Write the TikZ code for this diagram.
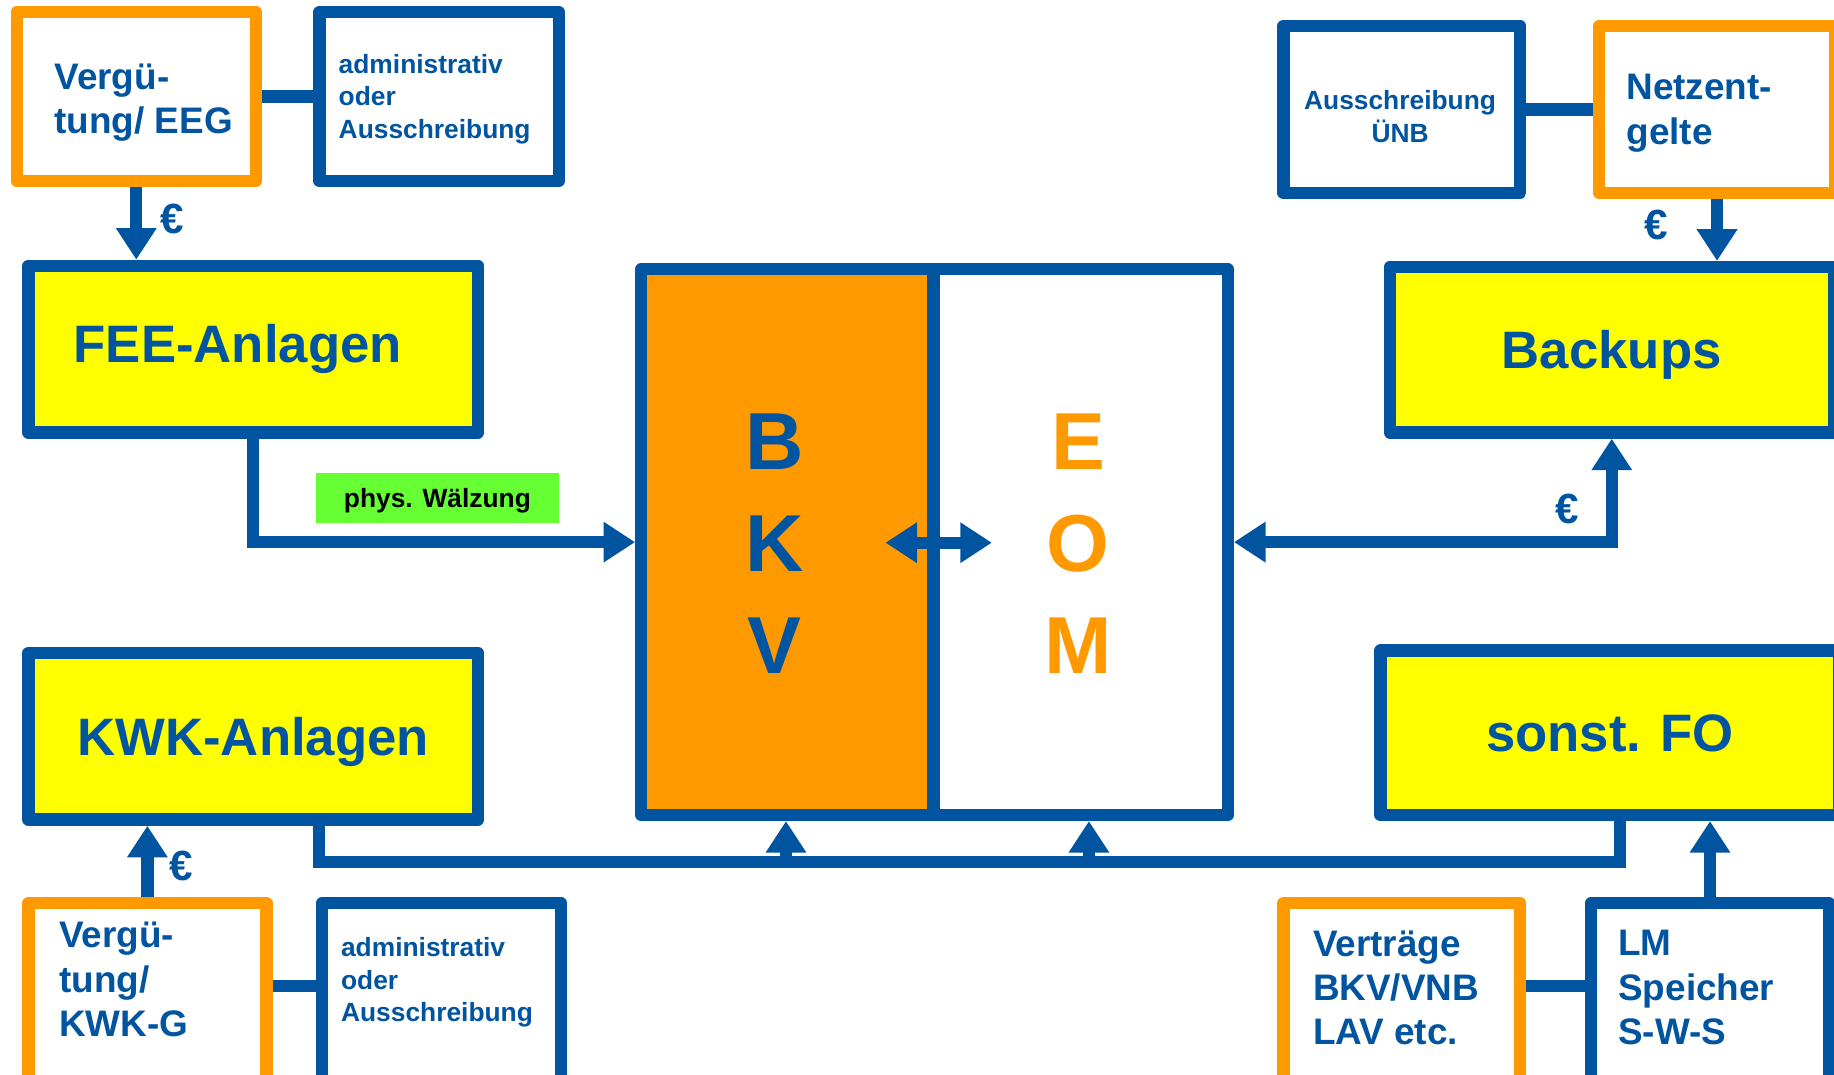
\documentclass[tikz,border=0pt]{standalone}
\usepackage{fontspec}
\setmainfont{Liberation Sans}
\usetikzlibrary{arrows.meta}

\definecolor{dblue}{HTML}{0054A0}
\definecolor{dorange}{HTML}{FF9900}
\definecolor{dyellow}{HTML}{FFFF00}
\definecolor{dgreen}{HTML}{66FF33}
\newlength\pxu
\setlength\pxu{0.11697mm}

\begin{document}
\begin{tikzpicture}[x=0.11697mm, y=-0.11697mm,
	every node/.style={font=\bfseries, text=dblue, inner sep=0pt},
	wh/.style 2 args={minimum width=#1\pxu, minimum height=#2\pxu},
	box/.style={draw=dblue, line width=10.5\pxu, line join=round, fill=white},
	obox/.style={box, draw=dorange},
	gbox/.style={box, fill=dyellow, font=\fontsize{15}{18}\selectfont\bfseries},
	smalltxt/.style={font=\fontsize{10.5}{12.6}\selectfont\bfseries, align=left, anchor=north west},
	minitxt/.style={font=\fontsize{7.5}{9.2}\selectfont\bfseries, align=left, anchor=north west},
	euro/.style={font=\fontsize{12}{14}\selectfont\bfseries},
	letters/.style={font=\fontsize{23}{29}\selectfont\bfseries, align=center},
	link/.style={draw=dblue, line width=10.5\pxu},
	>={Triangle[length=3.16mm, width=3.86mm]},
	arr/.style={link, ->}]
	\useasboundingbox (0,0) rectangle (1568,919);
	\clip (0,0) rectangle (1568,919);
	\fill[white] (0,0) rectangle (1568,919);

	% top row
	\node[obox, wh={204.5}{144.5}] (vergEEG) at (116.5,82.5) {};
	\node[box, wh={204.5}{144.5}] (adminEEG) at (375.5,82.5) {};
	\node[box, wh={202.5}{142.5}] (uenb) at (1198.5,93.5) {};
	\node[obox, wh={201.5}{142.5}] (netz) at (1468,93.5) {};
	\node[smalltxt] (vergEEGtxt) at (46,54) {Vergü-\\tung/ EEG};
	\node[minitxt] (adminEEGtxt) at (289,46) {administrativ\\oder\\Ausschreibung};
	\node[minitxt, anchor=north, align=center] (uenbtxt) at (1197,77) {Ausschreibung\\ÜNB};
	\node[smalltxt] (netztxt) at (1390,63) {Netzent-\\gelte};

	% yellow boxes
	\node[gbox, wh={384.5}{142.5}, align=left, text width=307\pxu] (fee) at (216.5,298.5) {FEE-Anlagen};
	\node[gbox, wh={384.5}{142.5}, text depth=0pt] (kwk) at (216.5,629.5) {KWK-Anlagen};
	\node[gbox, wh={379.5}{141.5}, text depth=0pt] (backups) at (1378,299) {Backups};
	\node[gbox, wh={392.5}{140.5}, text depth=0pt] (sonst) at (1376.5,626.5) {sonst. FO};

	% BKV / EOM
	\node[box, fill=dorange, wh={249.75}{466.5}] (bkv) at (673.125,463.5) {};
	\node[box, wh={251.75}{466.5}] (eom) at (923.875,463.5) {};
	\node[letters] (bkvtxt) at (662,465) {B\\K\\V};
	\node[letters, text=dorange] (eomtxt) at (922,465) {E\\O\\M};

	% bottom row
	\node[obox, wh={203.5}{157.5}] (vergKWK) at (126,851) {};
	\node[box, wh={204.5}{157.5}] (adminKWK) at (377.5,851) {};
	\node[obox, wh={202.5}{157.5}] (vertr) at (1198.5,851) {};
	\node[box, wh={203.5}{157.5}] (lm) at (1462,851) {};
	\node[smalltxt] (vergKWKtxt) at (50,788) {Vergü-\\tung/\\KWK-G};
	\node[minitxt] (adminKWKtxt) at (291,801) {administrativ\\oder\\Ausschreibung};
	\node[smalltxt] (vertrtxt) at (1122,795) {Verträge\\BKV/VNB\\LAV etc.};
	\node[smalltxt] (lmtxt) at (1383,795) {LM\\Speicher\\S-W-S};

	\node[fill=dgreen, text=black, font=\fontsize{7.5}{9.2}\selectfont\bfseries, wh={208}{43}, text depth=0pt] (phys) at (374,425.5) {phys. Wälzung};

	\foreach \n/\x/\y in {1/147/187, 2/1416/192, 3/1340/435, 4/155/740}
		\node[euro] (eur\n) at (\x,\y) {€};

	% connectors
	\coordinate (rowb) at (0,843);
	\coordinate (busL) at (273,737);
	\coordinate (busR) at (1385,737);
	\coordinate (tapB) at (672,737);
	\coordinate (tapE) at (931,737);
	\coordinate (bkvtip) at (757,464);
	\coordinate (eomtip) at (848,464);

	\draw[link] (vergEEG) -- (adminEEG);
	\draw[link] (uenb) -- (netz);
	\draw[link] (vergKWK.east |- rowb) -- (adminKWK.west |- rowb);
	\draw[link] (vertr.east |- rowb) -- (lm.west |- rowb);

	\draw[arr] (vergEEG.south) -- (vergEEG.south |- fee.north);
	\draw[arr] (netz.south) -- (netz.south |- backups.north);
	\draw[arr] (vergKWK.north) -- (vergKWK.north |- kwk.south);
	\draw[arr] (lm.north) -- (lm.north |- sonst.south);
	\draw[arr] (fee.south) |- (bkv.west);
	\draw[link, <->] (eom.east) -| (backups.south);
	\draw[link, <->] (bkvtip) -- (eomtip);

	\draw[link] (kwk.south -| busL) |- (busR) -- (sonst.south -| busR);
	\draw[arr] (tapB) -- (tapB |- bkv.south);
	\draw[arr] (tapE) -- (tapE |- eom.south);
\end{tikzpicture}
\end{document}
